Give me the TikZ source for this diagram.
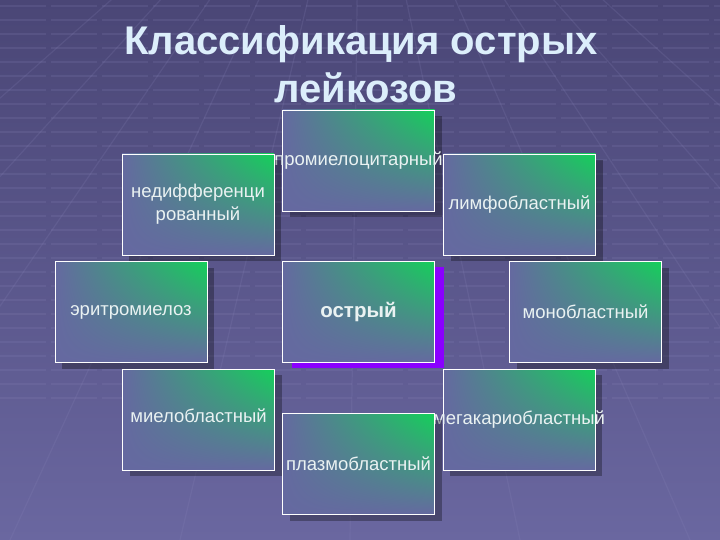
\documentclass[tikz,border=0pt]{standalone}
\usepackage{fontspec}
\setmainfont{Liberation Sans}
\usetikzlibrary{positioning}
\usetikzlibrary{shadows}
\usetikzlibrary{shadings}
\definecolor{bgtop}{HTML}{4A4676}
\definecolor{bgbot}{HTML}{6A67A0}
\definecolor{slate}{HTML}{6569A0}
\definecolor{leaf}{HTML}{14D05A}
\definecolor{ink}{HTML}{EAF2F2}
\definecolor{titleink}{HTML}{DCEEFB}
\definecolor{violet}{HTML}{8A00FF}
\definecolor{gridline}{HTML}{8A86BA}
\tikzset{
    cellbase/.style = {rectangle, draw=white, line width=0.8pt, inner sep=0pt,
        minimum width=152pt, minimum height=101pt,
        upper left=slate, lower left=slate, lower right=slate, upper right=leaf,
        text=ink, font=\fontsize{18.5}{23}\selectfont},
    cell/.style = {cellbase,
        drop shadow={shadow xshift=7pt, shadow yshift=-6pt, fill=black, opacity=0.3}},
    keycell/.style = {cellbase, font=\bfseries\fontsize{20.5}{24}\selectfont,
        drop shadow={shadow xshift=9pt, shadow yshift=-6pt, fill=violet, opacity=1}},
    heading/.style = {anchor=base, text=titleink, font=\bfseries\fontsize{40}{48}\selectfont},
    grid/.style = {gridline, opacity=0.18, line width=1.2pt}}

\begin{document}
\begin{tikzpicture}[x=1pt,y=-1pt]
    \useasboundingbox (0,0) rectangle (720,540);
    % backdrop
    \shade[top color=bgtop, bottom color=bgbot] (0,0) rectangle (720,540);
    \begin{scope}
        \clip (0,0) rectangle (720,540);
        \foreach \h in {6,20,...,400}
            \draw[grid, dash pattern=on 46pt off 5pt] (0,\h) -- (720,\h);
        \foreach \b in {-500,-330,...,1300}
            \draw[grid] (360,-220) -- (\b,540);
    \end{scope}
    % title
    \node[heading] (heada) at (361,55) {Классификация острых};
    \node[heading] (headb) at (366,103) {лейкозов};
    % boxes
    \path (358.5,160.5) node[cell] (promie) {\makebox[0pt]{промиелоцитарный}}
        + (-160.5,44) node[cell, align=center] (nedif) {недифференци\\рованный}
        + (161,44) node[cell] (limf) {лимфобластный}
        ++ (0,151) node[keycell] (acute) {острый}
        + (-227.5,0.5) node[cell] (eritro) {эритромиелоз}
        + (227,0.5) node[cell] (mono) {монобластный}
        + (-160,108) node[cell] (mielo) {\raisebox{8pt}{миелобластный}}
        + (160.5,108) node[cell] (mega) {\raisebox{-3pt}{\makebox[0pt]{мегакариобластный}}}
        ++ (0,152.5) node[cell] (plazmo) {плазмобластный};
\end{tikzpicture}
\end{document}
